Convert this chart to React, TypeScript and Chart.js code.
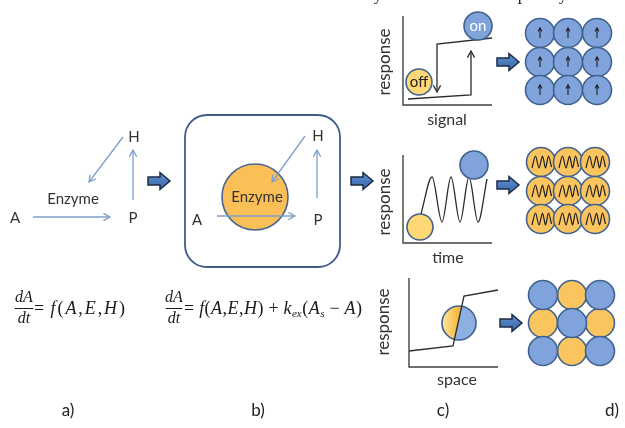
import React, { useEffect, useRef } from "react";
import { Chart, registerables } from "chart.js";

Chart.register(...registerables);

// ---------- diagram data (figure coordinates, 625 x 428, y downward) ----------
const reactionArrowsA: number[][] = [[123, 137, 89, 182], [33, 217, 110, 217], [133, 200, 133, 150]];
const reactionArrowsB: number[][] = [[305, 136, 272, 182], [217, 216, 295, 216], [317, 198, 317, 150]];
const enzymeCircle = [255, 197, 33];
const cellBox = [185, 115, 340, 267, 22];

const hysteresisUp: number[][] = [[408, 99], [471, 95], [471, 51]];
const hysteresisDown: number[][] = [[492, 38], [437, 44], [437, 92]];
const oscillation: number[][] = [[421, 214], [432, 177], [442, 222], [451, 177], [460, 222], [469, 177], [478, 222], [487, 179]];
const switchProfile: number[][] = [[409, 351], [453, 346], [464, 296], [498, 290]];
const axesFrames: number[][][] = [
  [[403, 16], [403, 105], [492, 105]],
  [[403, 155], [403, 243], [492, 243]],
  [[409, 278], [409, 367], [498, 367]],
];

const offCircle = [419, 82, 13];
const onCircle = [478, 26, 14];
const lowCircle = [420, 227, 13];
const highCircle = [474, 165, 14];
const splitCircle = [459, 323, 17];

const gridTopX = [540, 568, 597];
const gridTopY = [33, 62, 90];
const gridMidX = [541, 568, 595];
const gridMidY = [162, 191, 219];
const gridBotX = [543, 572, 600];
const gridBotY = [295, 323, 351];
const gridBotPattern = [[0, 1, 0], [1, 0, 1], [0, 1, 0]];
const gridRadius = 14.5;
const zigzagShape: number[][] = [[-9, 6], [-5.5, -6], [-2, 6], [1.5, -6], [4.5, 6], [7.5, -6], [10.5, 5]];

const fatArrowCenters: number[][] = [[159, 181], [362, 181], [508, 62], [508, 185], [511, 323]];

const panelTexts: [string, number, number][] = [
  ["H", 134, 137], ["Enzyme", 73, 199], ["A", 15, 218], ["P", 133, 218],
  ["H", 318, 136], ["Enzyme", 257, 197], ["A", 197, 220], ["P", 318, 220],
];
const axisTitles: [string, number, number][] = [["signal", 447, 120], ["time", 448, 258], ["space", 457, 380]];
const responseTitles: [string, number, number][] = [["response", 385, 62], ["response", 385, 202], ["response", 384, 322]];
const panelLetters: [string, number, number][] = [["a)", 68, 411], ["b)", 258, 411], ["c)", 443, 411], ["d)", 612, 411]];
const topFragments: [string, number, number][] = [["y", 378, 0], ["p", 522, 0], ["y", 563, 0]];

type Run = [string, "n" | "i" | "s"];
const eq1Runs: Run[] = [["= ", "n"], ["f", "i"], ["(", "n"], ["A", "i"], [",", "n"], ["E", "i"], [",", "n"], ["H", "i"], [")", "n"]];
const eq2Runs: Run[] = [["= ", "n"], ["f", "i"], ["(", "n"], ["A", "i"], [",", "n"], ["E", "i"], [",", "n"], ["H", "i"], [")", "n"],
  [" + ", "n"], ["k", "i"], ["ex", "s"], ["(", "n"], ["A", "i"], ["s", "s"], [" \u2212 ", "n"], ["A", "i"], [")", "n"]];
const equations = [
  { frac: [24, 15, 33], runs: eq1Runs, x0: 34, x1: 125 },
  { frac: [174, 166, 182], runs: eq2Runs, x0: 184, x1: 362 },
];

// ---------- styles ----------
const BLUE = "#7fa3da";
const BLUE_EDGE = "#41628f";
const YELLOW = "#fac55f";
const YELLOW_LIGHT = "#fdd874";
const THIN = "#7f9fcc";
const INK = "#333333";
const SANS = "Lato, 'Open Sans', sans-serif";
const SERIF = "'Liberation Serif', 'DejaVu Serif', serif";

const pts = (a: number[][]) => a.map(([x, y]) => ({ x, y }));
const line = (a: number[][], color: string, width: number, order: number, extra: any = {}) => ({
  data: pts(a), showLine: true, pointRadius: 0, pointHoverRadius: 0, borderColor: color, borderWidth: width,
  clip: false, order, fill: false, ...extra,
});
const circles = (a: number[][], r: number, fill: string, edge: string, order = 5) => ({
  data: pts(a), showLine: false, pointRadius: r, pointHoverRadius: r, pointBackgroundColor: fill,
  pointBorderColor: edge, pointBorderWidth: 1.6, clip: false, order,
});

function buildDatasets() {
  const ds: any[] = [];
  for (const f of axesFrames) ds.push(line(f, "#404040", 1.4, 20));
  ds.push(line(hysteresisUp, "#2b2b2b", 1.3, 20, { head: 7 }));
  ds.push(line(hysteresisDown, "#2b2b2b", 1.3, 20, { head: 7 }));
  ds.push(line(oscillation, "#2b2b2b", 1.3, 20, { cubicInterpolationMode: "monotone" }));
  ds.push(line(switchProfile, "#2b2b2b", 1.3, 20));
  ds.push(circles([[enzymeCircle[0], enzymeCircle[1]]], enzymeCircle[2], "#fbbf57", "#4a6691"));
  ds.push(circles([[offCircle[0], offCircle[1]]], offCircle[2], YELLOW_LIGHT, BLUE_EDGE));
  ds.push(circles([[onCircle[0], onCircle[1]]], onCircle[2], BLUE, BLUE_EDGE));
  ds.push(circles([[lowCircle[0], lowCircle[1]]], lowCircle[2], YELLOW_LIGHT, BLUE_EDGE));
  ds.push(circles([[highCircle[0], highCircle[1]]], highCircle[2], BLUE, BLUE_EDGE));
  const top: number[][] = [], mid: number[][] = [], botB: number[][] = [], botY: number[][] = [];
  gridTopY.forEach((y) => gridTopX.forEach((x) => top.push([x, y])));
  gridMidY.forEach((y) => gridMidX.forEach((x) => mid.push([x, y])));
  gridBotY.forEach((y, r) => gridBotX.forEach((x, c) => (gridBotPattern[r][c] ? botY : botB).push([x, y])));
  ds.push(circles(top, gridRadius, BLUE, BLUE_EDGE));
  ds.push(circles(mid, gridRadius, YELLOW, BLUE_EDGE));
  ds.push(circles(botB, gridRadius, BLUE, BLUE_EDGE));
  ds.push(circles(botY, gridRadius, YELLOW, BLUE_EDGE));
  for (const a of [...reactionArrowsA, ...reactionArrowsB])
    ds.push(line([[a[0], a[1]], [a[2], a[3]]], THIN, 1.3, 1, { head: 7 }));
  for (const [x, y] of top) ds.push(line([[x, y + 5], [x, y - 5]], "#1e1e1e", 1.1, 1, { head: 3.5 }));
  for (const [x, y] of mid)
    ds.push(line(zigzagShape.map(([dx, dy]) => [x + dx, y + dy]), "#1e1e1e", 1.2, 1, { tension: 0.3 }));
  return ds;
}

const diagramPlugin = {
  id: "diagram",
  beforeDatasetsDraw(chart: any) {
    const ctx = chart.ctx;
    const X = (v: number) => chart.scales.x.getPixelForValue(v);
    const Y = (v: number) => chart.scales.y.getPixelForValue(v);
    // cell box
    const [l, t, r, b, rad] = cellBox;
    ctx.save();
    ctx.strokeStyle = "#3e5a8a";
    ctx.lineWidth = 1.8;
    ctx.beginPath();
    ctx.roundRect(X(l), Y(t), X(r) - X(l), Y(b) - Y(t), rad);
    ctx.stroke();
    // split circle
    const [cx, cy, cr] = splitCircle;
    ctx.beginPath();
    ctx.arc(X(cx), Y(cy), cr, 0, Math.PI * 2);
    ctx.save();
    ctx.clip();
    ctx.fillStyle = "#8cb0e2";
    ctx.fillRect(X(cx) - cr, Y(cy) - cr, cr * 2, cr * 2);
    const p1 = switchProfile[1], p2 = switchProfile[2];
    const sx = (p2[0] - p1[0]) / (p2[1] - p1[1]);
    const yTop = cy - cr - 2, yBot = cy + cr + 2;
    const g = ctx.createLinearGradient(X(cx - cr), 0, X(cx), 0);
    g.addColorStop(0, "#fde6a0");
    g.addColorStop(1, "#f6b63a");
    ctx.fillStyle = g;
    ctx.beginPath();
    ctx.moveTo(X(cx - cr - 2), Y(yTop));
    ctx.lineTo(X(p1[0] + (yTop - p1[1]) * sx), Y(yTop));
    ctx.lineTo(X(p1[0] + (yBot - p1[1]) * sx), Y(yBot));
    ctx.lineTo(X(cx - cr - 2), Y(yBot));
    ctx.closePath();
    ctx.fill();
    ctx.restore();
    ctx.beginPath();
    ctx.arc(X(cx), Y(cy), cr, 0, Math.PI * 2);
    ctx.strokeStyle = BLUE_EDGE;
    ctx.lineWidth = 1.6;
    ctx.stroke();
    ctx.restore();
  },
  afterDatasetsDraw(chart: any) {
    const ctx = chart.ctx;
    const X = (v: number) => chart.scales.x.getPixelForValue(v);
    const Y = (v: number) => chart.scales.y.getPixelForValue(v);
    ctx.save();
    // arrow heads
    chart.data.datasets.forEach((ds: any, i: number) => {
      if (!ds.head) return;
      const d = chart.getDatasetMeta(i).data;
      const a = d[d.length - 2], b = d[d.length - 1];
      const ang = Math.atan2(b.y - a.y, b.x - a.x);
      const L = ds.head;
      ctx.strokeStyle = ds.borderColor;
      ctx.lineWidth = ds.borderWidth;
      ctx.lineCap = "round";
      ctx.beginPath();
      ctx.moveTo(b.x - L * Math.cos(ang - 0.5), b.y - L * Math.sin(ang - 0.5));
      ctx.lineTo(b.x, b.y);
      ctx.lineTo(b.x - L * Math.cos(ang + 0.5), b.y - L * Math.sin(ang + 0.5));
      ctx.stroke();
    });
    // fat arrows
    for (const [fx, fy] of fatArrowCenters) {
      const x = X(fx), y = Y(fy);
      ctx.beginPath();
      ctx.moveTo(x - 11, y - 4);
      ctx.lineTo(x + 1, y - 4);
      ctx.lineTo(x + 1, y - 8.5);
      ctx.lineTo(x + 11, y);
      ctx.lineTo(x + 1, y + 8.5);
      ctx.lineTo(x + 1, y + 4);
      ctx.lineTo(x - 11, y + 4);
      ctx.closePath();
      const g = ctx.createLinearGradient(0, y - 8, 0, y + 8);
      g.addColorStop(0, "#5d8fd0");
      g.addColorStop(1, "#3a68a8");
      ctx.fillStyle = g;
      ctx.fill();
      ctx.strokeStyle = "#1b2a44";
      ctx.lineWidth = 1.5;
      ctx.lineJoin = "miter";
      ctx.stroke();
    }
    // texts
    ctx.textAlign = "center";
    ctx.textBaseline = "middle";
    ctx.fillStyle = INK;
    ctx.font = `15px ${SANS}`;
    for (const [t, x, y] of panelTexts) ctx.fillText(t, X(x), Y(y));
    ctx.font = `16px ${SANS}`;
    for (const [t, x, y] of axisTitles) ctx.fillText(t, X(x), Y(y));
    ctx.font = `17px ${SANS}`;
    for (const [t, x, y] of responseTitles) {
      ctx.save();
      ctx.translate(X(x), Y(y));
      ctx.rotate(-Math.PI / 2);
      ctx.fillText(t, 0, 0);
      ctx.restore();
    }
    ctx.font = `15px ${SANS}`;
    ctx.fillStyle = "#222";
    ctx.fillText("off", X(offCircle[0]), Y(offCircle[1]));
    ctx.fillStyle = "#ffffff";
    ctx.fillText("on", X(onCircle[0]), Y(onCircle[1]));
    ctx.fillStyle = "#222";
    ctx.font = `17px ${SANS}`;
    for (const [t, x, y] of panelLetters) ctx.fillText(t, X(x), Y(y));
    ctx.font = `17px ${SERIF}`;
    ctx.textBaseline = "alphabetic";
    for (const [t, x, y] of topFragments) ctx.fillText(t, X(x), Y(y));
    // equations
    ctx.fillStyle = "#1a1a1a";
    for (const eq of equations) {
      const [fc, f0, f1] = eq.frac;
      ctx.textAlign = "center";
      ctx.textBaseline = "middle";
      ctx.font = `italic 16px ${SERIF}`;
      ctx.fillText("dA", X(fc), Y(298));
      ctx.fillText("dt", X(fc), Y(319));
      ctx.strokeStyle = "#1a1a1a";
      ctx.lineWidth = 1;
      ctx.beginPath();
      ctx.moveTo(X(f0), Y(308) + 0.5);
      ctx.lineTo(X(f1), Y(308) + 0.5);
      ctx.stroke();
      const fontOf = (s: string) => (s === "i" ? `italic 18px ${SERIF}` : s === "s" ? `italic 11px ${SERIF}` : `18px ${SERIF}`);
      let natural = 0;
      const widths = eq.runs.map(([t, s]) => { ctx.font = fontOf(s); const w = ctx.measureText(t).width; natural += w; return w; });
      const gap = Math.max(0, (X(eq.x1) - X(eq.x0) - natural) / (eq.runs.length - 1));
      let cx = X(eq.x0);
      ctx.textAlign = "left";
      eq.runs.forEach(([t, s], k) => {
        ctx.font = fontOf(s);
        ctx.fillText(t, cx, Y(s === "s" ? 314 : 309));
        cx += widths[k] + gap;
      });
    }
    ctx.restore();
  },
};

export default function App() {
  const ref = useRef<HTMLCanvasElement | null>(null);
  useEffect(() => {
    if (!ref.current) return;
    const chart = new Chart(ref.current, {
      type: "scatter",
      data: { datasets: buildDatasets() },
      options: {
        responsive: false,
        maintainAspectRatio: false,
        animation: false,
        events: [],
        layout: { padding: 0, autoPadding: false },
        plugins: { legend: { display: false }, tooltip: { enabled: false } },
        scales: {
          x: { type: "linear", min: 0, max: 625, display: false },
          y: { type: "linear", min: 0, max: 428, reverse: true, display: false },
        },
      } as any,
      plugins: [diagramPlugin as any],
    });
    return () => chart.destroy();
  }, []);
  return (
    <div style={{ position: "fixed", left: 0, top: 0, width: 625, height: 428, background: "#fff" }}>
      <canvas ref={ref} width={625} height={428} />
    </div>
  );
}
